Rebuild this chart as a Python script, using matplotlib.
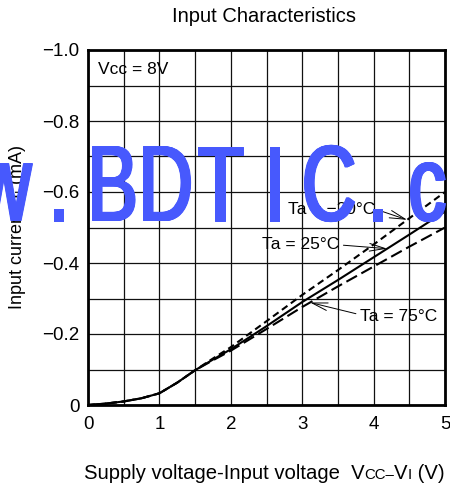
import numpy as np
import matplotlib
matplotlib.use("Agg")
import matplotlib.pyplot as plt
from matplotlib.textpath import TextPath
from matplotlib.font_manager import FontProperties, findfont
from matplotlib.patches import PathPatch
from matplotlib.transforms import Affine2D, IdentityTransform

plt.rcParams['font.family'] = ['Liberation Sans', 'DejaVu Sans']

# ---- data ----
voltage = [0, 0.25, 0.5, 0.75, 1.0, 1.25, 1.5, 1.75, 2.0, 2.5, 3.0, 3.5, 4.0, 4.5, 5.0]
current_m20 = [0, -0.004, -0.010, -0.019, -0.033, -0.063, -0.098, -0.131, -0.163, -0.236, -0.310, -0.380, -0.452, -0.526, -0.600]
current_25 = [0, -0.004, -0.010, -0.019, -0.033, -0.063, -0.098, -0.128, -0.157, -0.222, -0.290, -0.352, -0.416, -0.480, -0.545]
current_75 = [0, -0.004, -0.010, -0.019, -0.033, -0.063, -0.098, -0.126, -0.153, -0.214, -0.276, -0.334, -0.390, -0.446, -0.500]
x_ticks = [0, 1, 2, 3, 4, 5]
y_ticks = [0, -0.2, -0.4, -0.6, -0.8, -1.0]
y_tick_labels = ["0", "\u22120.2", "\u22120.4", "\u22120.6", "\u22120.8", "\u22121.0"]
labels = ["Ta = \u221220\u00b0C", "Ta = 25\u00b0C", "Ta = 75\u00b0C"]

W, H = 450, 491
fig = plt.figure(figsize=(W / 100, H / 100), dpi=100)
AX_L, AX_R, AX_T, AX_B = 88, 445, 50, 405
ax = fig.add_axes([AX_L / W, 1 - AX_B / H, (AX_R - AX_L) / W, (AX_B - AX_T) / H])

lw = 1.5
ax.plot(voltage, current_m20, color='black', lw=lw, dashes=(3.3, 2.0))
ax.plot(voltage, current_25, color='black', lw=lw)
ax.plot(voltage, current_75, color='black', lw=lw, dashes=(5.8, 2.4))

ax.set_xlim(0, 5)
ax.set_ylim(0, -1.0)
ax.set_xticks(x_ticks)
ax.set_xticklabels([str(t) for t in x_ticks])
ax.set_yticks(y_ticks)
ax.set_yticklabels(y_tick_labels)
ax.set_xticks(np.arange(0, 5.01, 0.5), minor=True)
ax.set_yticks(np.arange(0, -1.01, -0.1), minor=True)
ax.tick_params(which='both', length=0)
ax.tick_params(axis='x', pad=8, labelsize=13.5)
ax.tick_params(axis='y', pad=6, labelsize=13.5)
ax.grid(which='both', color='#111111', lw=0.9)
ax.set_axisbelow(True)
for s in ax.spines.values():
    s.set_linewidth(2.0)

ax.text(0.14, -0.944, "Vcc = 8V", fontsize=12.5, ha='left', va='center')

arrow = dict(arrowstyle='->,head_length=0.9,head_width=0.22', lw=0.7, color='black',
             shrinkA=1, shrinkB=0)
ax.annotate(labels[0], xy=(4.47, np.interp(4.47, voltage, current_m20)), xytext=(2.80, -0.552),
            fontsize=12.5, ha='left', va='center',
            arrowprops=dict(arrow, relpos=(1.0, 0.5)))
ax.annotate(labels[1], xy=(4.19, np.interp(4.19, voltage, current_25)), xytext=(2.437, -0.451),
            fontsize=12.5, ha='left', va='center',
            arrowprops=dict(arrow, relpos=(1.0, 0.5)))
ax.annotate(labels[2], xy=(3.11, np.interp(3.11, voltage, current_75)), xytext=(3.81, -0.248),
            fontsize=12.5, ha='left', va='center',
            arrowprops=dict(arrow, relpos=(0.0, 0.65)))

fig.text(264 / W, 1 - 17 / H, "Input Characteristics", fontsize=14.5, ha='center', va='center')

ax.set_ylabel("Input current  I$_\\mathregular{I}$ (mA)", fontsize=13)
ax.yaxis.set_label_coords((28 - AX_L) / (AX_R - AX_L), 0.5)

# composite x label with small caps
fig.canvas.draw()
renderer = fig.canvas.get_renderer()
big, small = 14.6, 10.8
pieces = [("Supply voltage-Input voltage  V", big), ("CC\u2013", small), ("V", big),
          ("I", small), (" (V)", big)]
def measure(s, size):
    t1 = fig.text(0, 0, "H" + s + "H", fontsize=size)
    t2 = fig.text(0, 0, "HH", fontsize=size)
    w = t1.get_window_extent(renderer).width - t2.get_window_extent(renderer).width
    t1.remove(); t2.remove()
    return w
widths = [measure(s, sz) for s, sz in pieces]
total = sum(widths)
x0 = 264 - total / 2
baseline = H - 479
for (s, sz), w in zip(pieces, widths):
    fig.text(x0, baseline, s, fontsize=sz, ha='left', va='baseline', transform=IdentityTransform())
    x0 += w

# watermark
wm_color = '#4759fd'
narrow = True
try:
    findfont(FontProperties(family='Liberation Sans Narrow'), fallback_to_default=False)
    fp = FontProperties(family='Liberation Sans Narrow')
except Exception:
    narrow = False
    fp = FontProperties(family='Liberation Sans')
edge_px = 1.0
size = (78 - edge_px) / 0.716
sx = 0.86 if narrow else 0.70
shift = 0.0 if narrow else 2.5
wm_chars = [("w", None, 33), (".", 53, None), ("B", 92, None), ("D", 143, None), ("T", 197, None),
            ("I", 269, None), ("C", 304, None), (".", 372, None), ("c", 410, None)]
for ch, left, right in wm_chars:
    p = TextPath((0, 0), ch, size=size, prop=fp)
    p = p.transformed(Affine2D().scale(sx, 1.0))
    ext = p.get_extents()
    if left is not None:
        dx = left + edge_px / 2 - ext.x0
    else:
        dx = right - edge_px / 2 - shift - ext.x1
    for off in np.arange(0, shift + 0.01, 0.5):
        q = p.transformed(Affine2D().translate(dx + off, H - 221 + edge_px / 2))
        fig.add_artist(PathPatch(q, facecolor=wm_color, edgecolor=wm_color, lw=edge_px * 0.72,
                                 joinstyle='round', transform=IdentityTransform(), zorder=10))

fig.savefig("out.png", dpi=100)
